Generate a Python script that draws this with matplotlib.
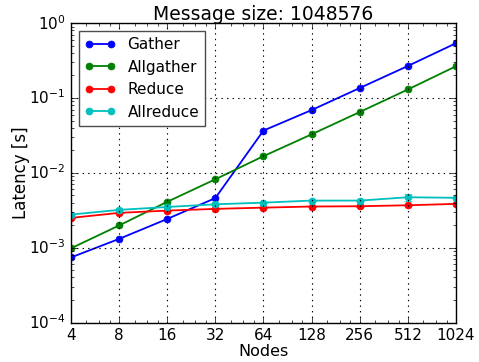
import matplotlib
matplotlib.use("Agg")
import matplotlib.pyplot as plt
from matplotlib.ticker import LogLocator, FixedLocator, NullFormatter, FixedFormatter

plt.style.use("classic")

nodes = [4, 8, 16, 32, 64, 128, 256, 512, 1024]
node_labels = ["4", "8", "16", "32", "64", "128", "256", "512", "1024"]

gather = [7.4e-4, 1.31e-3, 2.42e-3, 4.6e-3, 3.67e-2, 6.9e-2, 0.136, 0.268, 0.54]
allgather = [9.8e-4, 1.98e-3, 4.1e-3, 8.2e-3, 1.67e-2, 3.27e-2, 6.5e-2, 0.13, 0.266]
reduce_ = [2.5e-3, 2.92e-3, 3.13e-3, 3.3e-3, 3.43e-3, 3.55e-3, 3.58e-3, 3.69e-3, 3.85e-3]
allreduce = [2.77e-3, 3.2e-3, 3.5e-3, 3.8e-3, 4.0e-3, 4.26e-3, 4.26e-3, 4.72e-3, 4.64e-3]

reduce_err = [3e-5, 3e-5, 3e-5, 3e-5, 3e-5, 3e-5, 3e-5, 4e-5, 4e-5]
allreduce_err = [5e-5, 5e-5, 5e-5, 5e-5, 6e-5, 8e-5, 8e-5, 4.5e-4, 8e-5]

series = [
    ("Gather", gather, None, "b"),
    ("Allgather", allgather, None, "g"),
    ("Reduce", reduce_, reduce_err, "r"),
    ("Allreduce", allreduce, allreduce_err, "c"),
]

fig = plt.figure(figsize=(4.79, 3.62), dpi=100, facecolor="white")
ax = fig.add_axes([0.148, 0.109, 0.804, 0.827])

for name, vals, err, col in series:
    ax.plot(nodes, vals, color=col, marker="o", markersize=5,
            markeredgecolor=col, linewidth=1.3, label=name)
    if err is not None:
        ax.errorbar(nodes, vals, yerr=err, fmt="none", ecolor=col,
                    capsize=3, elinewidth=1.0)

ax.set_xscale("log", base=2)
ax.set_yscale("log")
ax.set_xlim(4, 1024)
ax.set_ylim(1e-4, 1)

ax.xaxis.set_major_locator(FixedLocator(nodes))
ax.xaxis.set_major_formatter(FixedFormatter(node_labels))
ax.xaxis.set_minor_locator(LogLocator(base=2, subs=[1.25, 1.5, 1.75]))
ax.xaxis.set_minor_formatter(NullFormatter())
ax.yaxis.set_minor_locator(LogLocator(base=10, subs=range(2, 10)))

ax.tick_params(labelsize=11)
ax.grid(True, which="major", linestyle=(0, (1, 3)), color="k", linewidth=0.8)

ax.set_title("Message size: 1048576", fontsize=13.5, pad=2)
ax.set_xlabel("Nodes", fontsize=11.5, labelpad=1)
ax.set_ylabel("Latency [s]", fontsize=12, labelpad=-1)

leg = ax.legend(loc="upper left", numpoints=2, fontsize=11, fancybox=False,
                borderaxespad=0.5)
leg.get_frame().set_edgecolor("0.3")

fig.savefig("out.png", dpi=100, facecolor="white")
